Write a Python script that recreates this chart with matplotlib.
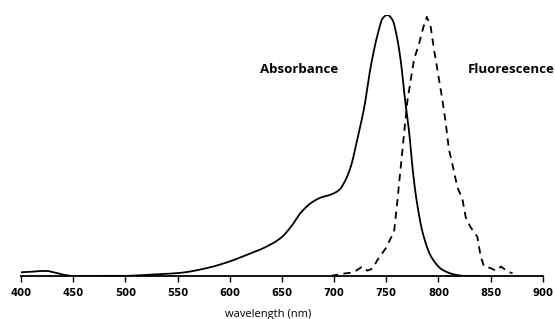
import numpy as np
import matplotlib
matplotlib.use("Agg")
import matplotlib.pyplot as plt

# absorbance spectrum (normalised)
abs_nm = [400, 410, 420, 425, 430, 440, 450, 500, 510, 530, 553, 579, 601,
          617, 633, 649, 659, 668, 678, 687, 697, 705, 710, 716, 722, 729,
          735, 742, 746.5, 751, 756, 760, 764, 768, 772, 775, 779, 785, 793,
          804, 817, 825, 840]
abs_val = [0.014, 0.016, 0.019, 0.019, 0.015, 0.005, 0.0, 0.0, 0.002, 0.006,
           0.012, 0.031, 0.057, 0.082, 0.108, 0.146, 0.19, 0.242, 0.28, 0.30,
           0.312, 0.33, 0.36, 0.419, 0.52, 0.649, 0.80, 0.93, 0.987, 1.0,
           0.981, 0.92, 0.82, 0.674, 0.547, 0.419, 0.291, 0.164, 0.074,
           0.023, 0.004, 0.0, 0.0]

# fluorescence spectrum (normalised), dashed
fl_nm = [697, 702, 711, 716, 721, 727, 732, 737, 741.5, 749.5, 757.5, 760.7,
         765.4, 770.2, 776.6, 781.4, 785.6, 788.8, 792.6, 795.8, 799, 803.8,
         807, 810.1, 813.3, 818.1, 822.9, 826.1, 830.9, 837.3, 840.5, 843.7,
         850, 855, 860, 866, 871]
fl_val = [0.0, 0.004, 0.01, 0.012, 0.02, 0.036, 0.02, 0.029, 0.061, 0.106,
          0.17, 0.29, 0.48, 0.67, 0.83, 0.89, 0.954, 0.993, 0.954, 0.866,
          0.79, 0.674, 0.585, 0.483, 0.43, 0.34, 0.296, 0.225, 0.186, 0.15,
          0.074, 0.036, 0.03, 0.02, 0.036, 0.017, 0.01]

xticks = [400, 450, 500, 550, 600, 650, 700, 750, 800, 850, 900]


def pchip(x, y, xn):
    # monotone cubic interpolation, keeps the curve smooth without overshoot
    x = np.asarray(x, float)
    y = np.asarray(y, float)
    h = np.diff(x)
    d = np.diff(y) / h
    m = np.zeros_like(y)
    for k in range(1, len(x) - 1):
        if d[k - 1] * d[k] > 0:
            w1 = 2 * h[k] + h[k - 1]
            w2 = h[k] + 2 * h[k - 1]
            m[k] = (w1 + w2) / (w1 / d[k - 1] + w2 / d[k])
    m[0] = d[0]
    m[-1] = d[-1]
    i = np.clip(np.searchsorted(x, xn) - 1, 0, len(x) - 2)
    t = (xn - x[i]) / h[i]
    h00 = 2 * t**3 - 3 * t**2 + 1
    h10 = t**3 - 2 * t**2 + t
    h01 = -2 * t**3 + 3 * t**2
    h11 = t**3 - t**2
    return h00 * y[i] + h10 * h[i] * m[i] + h01 * y[i + 1] + h11 * h[i] * m[i + 1]


plt.rcParams['font.family'] = ['Open Sans', 'DejaVu Sans']

fig = plt.figure(figsize=(5.55, 3.19), dpi=100)
ax = fig.add_axes([0.038, 0.135, 0.940, 0.818])

xa = np.linspace(400, 840, 900)
ax.plot(xa, pchip(abs_nm, abs_val, xa), color='black', lw=1.3)
ax.plot(fl_nm, fl_val, color='black', lw=1.3, ls=(0, (4, 3)))

ax.set_xlim(400, 900)
ax.set_ylim(0, 1.0)
ax.set_xticks(xticks)
ax.set_xticklabels([str(t) for t in xticks], fontweight='bold', fontsize=7.3,
                   family='DejaVu Sans')
ax.set_yticks([])
for s in ['top', 'right', 'left']:
    ax.spines[s].set_visible(False)
ax.spines['bottom'].set_linewidth(1.3)
ax.tick_params(axis='x', direction='out', length=4, width=1.0, pad=5)

ax.text(629, 0.79, 'Absorbance', fontsize=9.5, fontweight='bold', va='center')
ax.text(828, 0.79, 'Fluorescence', fontsize=9.5, fontweight='bold', va='center',
        clip_on=False)

fig.text(268 / 555, 1 - 309 / 319, 'wavelength (nm)', fontsize=8,
         ha='center', va='top')

fig.savefig('out.png', dpi=100)
